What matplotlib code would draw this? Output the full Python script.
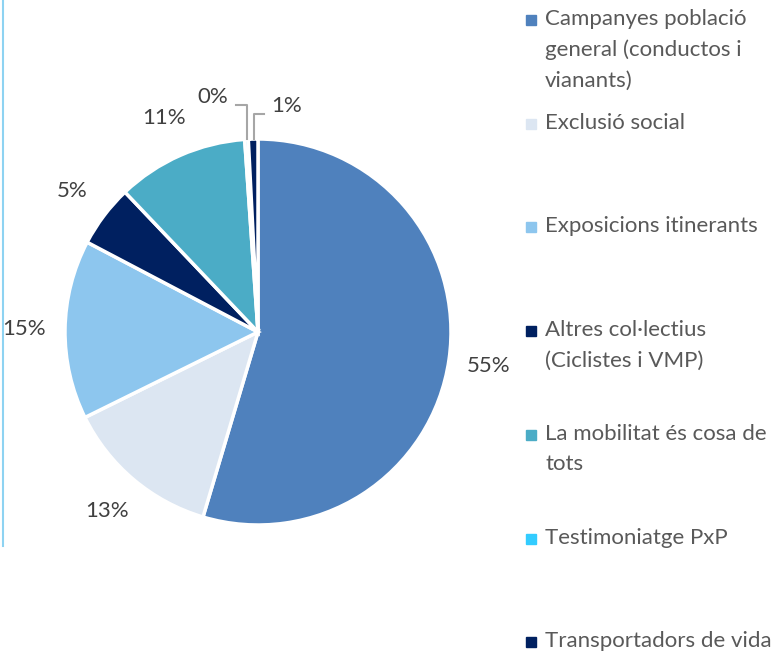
import matplotlib.pyplot as plt
from matplotlib.lines import Line2D
import numpy as np

# data
categories = [
    "Campanyes població\ngeneral (conductos i\nvianants)",
    "Exclusió social",
    "Exposicions itinerants",
    "Altres col·lectius\n(Ciclistes i VMP)",
    "La mobilitat és cosa de\ntots",
    "Testimoniatge PxP",
    "Transportadors de vida",
]
values = [54.6, 13.1, 15.0, 5.2, 11.0, 0.3, 0.8]
colors = ["#4F81BD", "#DCE6F2", "#8DC6EE", "#002060", "#4BACC6", "#33CCFF", "#002060"]

plt.rcParams['font.family'] = ['Lato', 'DejaVu Sans']

W, H = 774, 652
fig = plt.figure(figsize=(W / 100, H / 100), dpi=100)

# pie axes: centre (258, 332) px, radius 193 px, limits +-1.25
cx, cy, r = 258, 332, 193
half = 1.25 * r
ax = fig.add_axes([(cx - half) / W, (H - cy - half) / H, 2 * half / W, 2 * half / H])

wedges, _ = ax.pie(values, colors=colors, startangle=90, counterclock=False,
                   wedgeprops=dict(edgecolor="white", linewidth=2.5))
ax.set_xlim(-1.25, 1.25)
ax.set_ylim(-1.25, 1.25)
ax.set_aspect("equal")
ax.axis("off")

# percentage labels
total = sum(values)
start = 90.0
for i, v in enumerate(values):
    mid = start - v / total * 360 / 2
    start -= v / total * 360
    txt = f"{v / total * 100:.0f}%"
    a = np.deg2rad(mid)
    if i == 5:
        ax.text(-0.234, 1.22, txt, ha="center", va="center", fontsize=16, color="#404040")
        ax.plot([-0.115, -0.055, -0.055], [1.177, 1.177, 1.0], color="#A6A6A6", lw=1.5, clip_on=False)
    elif i == 6:
        ax.text(0.15, 1.17, txt, ha="center", va="center", fontsize=16, color="#404040")
        ax.plot([0.031, -0.02, -0.02], [1.13, 1.13, 1.0], color="#A6A6A6", lw=1.5, clip_on=False)
    else:
        ax.text(1.21 * np.cos(a), 1.21 * np.sin(a), txt, ha="center", va="center",
                fontsize=16, color="#404040")

# legend drawn by hand
for i, (lab, col) in enumerate(zip(categories, colors)):
    y = 20 + 103.7 * i
    fig.patches.append(plt.Rectangle((526 / W, (H - y - 5) / H), 10 / W, 10 / H,
                                     transform=fig.transFigure, color=col))
    fig.text(545 / W, (H - y + 11) / H, lab, ha="left", va="top", fontsize=16,
             color="#595959", linespacing=1.65)

# thin vertical line at the left edge
fig.add_artist(Line2D([3 / W, 3 / W], [1, (H - 546) / H], color="#8ED3F2", lw=1.5))

fig.savefig("out.png", dpi=100)
